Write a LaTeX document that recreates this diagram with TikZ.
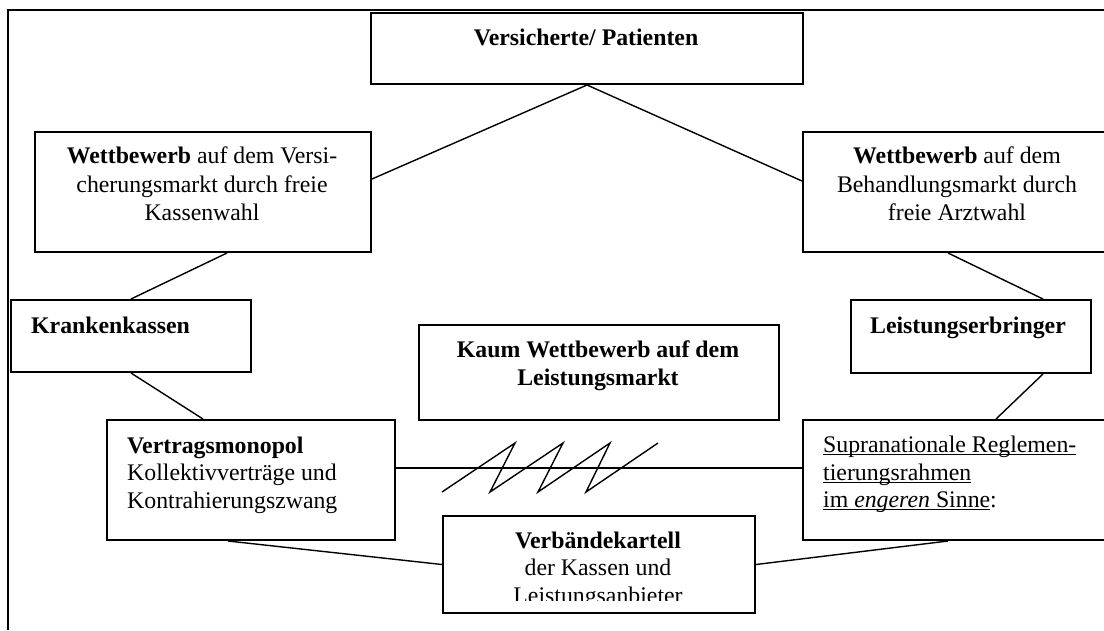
\documentclass[tikz,border=0pt]{standalone}
\usepackage{fontspec}
\setmainfont{Liberation Serif}
% underline at a fixed depth below the baseline
\newcommand\ulbox[1]{\setbox0\hbox{#1}\rlap{\rule[-3pt]{\wd0}{1.2pt}}\box0}
\begin{document}
\begin{tikzpicture}[x=1pt,y=-1pt,
  box/.style={draw,line width=2pt,inner sep=0pt,anchor=north west},
  link/.style={line width=1.4pt},
  txt/.style={inner sep=0pt,anchor=base,font=\fontsize{23.8}{28}\selectfont},
  txtl/.style={txt,anchor=base west}]
\clip (0,0) rectangle (1104,630);
\fill[white] (0,0) rectangle (1104,630);

% outer frame (left and top sides)
\draw[line width=2pt] (8,630) -- (8,10) -- (1104,10);

% boxes
\node[box,minimum width=432pt,minimum height=71pt]  (vp) at (370,12)  {};
\node[box,minimum width=336pt,minimum height=120pt] (wl) at (34,131)  {};
\node[box,minimum width=310pt,minimum height=120pt] (wr) at (802,131) {};
\node[box,minimum width=240pt,minimum height=72pt]  (kk) at (10,299)  {};
\node[box,minimum width=240pt,minimum height=73pt]  (le) at (850,299) {};
\node[box,minimum width=360pt,minimum height=95pt]  (kw) at (418,324) {};
\node[box,minimum width=288pt,minimum height=120pt] (vm) at (106,419) {};
\node[box,minimum width=310pt,minimum height=120pt] (sr) at (802,419) {};
\node[box,minimum width=312pt,minimum height=97pt]  (vk) at (442,515) {};

% connectors
\draw[link] (vp.south) -- ([yshift=13pt]wl.east);
\draw[link] (vp.south) -- ([yshift=11pt]wr.west);
\draw[link] ([xshift=24pt]wl.south) -- (kk.north);
\draw[link] (kk.south) -- ([xshift=-48pt]vm.north);
\draw[link] ([xshift=-10pt]wr.south) -- ([xshift=72pt]le.north);
\draw[link] ([xshift=72pt]le.south) -- ([xshift=38pt]sr.north);
\draw[link] ([yshift=12pt]vm.east) -- ([yshift=12pt]sr.west);
\draw[link] ([xshift=-23pt]vm.south) -- (vk.west);
\draw[link] ([xshift=-10pt]sr.south) -- (vk.east);

% zigzag across the horizontal link
\draw[link,line join=miter] (442,492) -- (515,443) -- (490,492) -- (563,443)
  -- (538,492) -- (610,443) -- (586,492) -- (658,443);

% texts
\node[txt] (vpt) at (586,45) {\textbf{Versicherte/ Patienten}};

\node[txt] (wl1) at (202,163) {\textbf{Wettbewerb} auf dem Versi-};
\node[txt] (wl2) at (202,192) {cherungsmarkt durch freie};
\node[txt] (wl3) at (202,220) {Kassenwahl};

\node[txt] (wr1) at (957,163) {\textbf{Wettbewerb} auf dem};
\node[txt] (wr2) at (957,192) {Behandlungsmarkt durch};
\node[txt] (wr3) at (957,220) {freie Arztwahl};

\node[txtl] (kkt) at (31,333) {\textbf{Krankenkassen}};
\node[txt]  (let) at (968,333) {\textbf{Leistungserbringer}};

\node[txt] (kw1) at (598,357) {\textbf{Kaum Wettbewerb auf dem}};
\node[txt] (kw2) at (598,385) {\textbf{Leistungsmarkt}};

\node[txtl] (vm1) at (127,453) {\textbf{Vertragsmonopol}};
\node[txtl] (vm2) at (127,480) {Kollektivverträge und};
\node[txtl] (vm3) at (127,508) {Kontrahierungszwang};

\node[txtl] (sr1) at (823,452) {\ulbox{Supranationale Reglemen-}};
\node[txtl] (sr2) at (823,480) {\ulbox{tierungsrahmen}};
\node[txtl] (sr3) at (823,507) {\ulbox{im \textit{engeren} Sinne}:};

\node[txt] (vk1) at (598,548) {\textbf{Verbändekartell}};
\node[txt] (vk2) at (598,575) {der Kassen und};
\begin{scope}
  \clip (0,0) rectangle (1104,600);
  \node[txt] (vk3) at (598,603) {Leistungsanbieter};
\end{scope}
\end{tikzpicture}
\end{document}
